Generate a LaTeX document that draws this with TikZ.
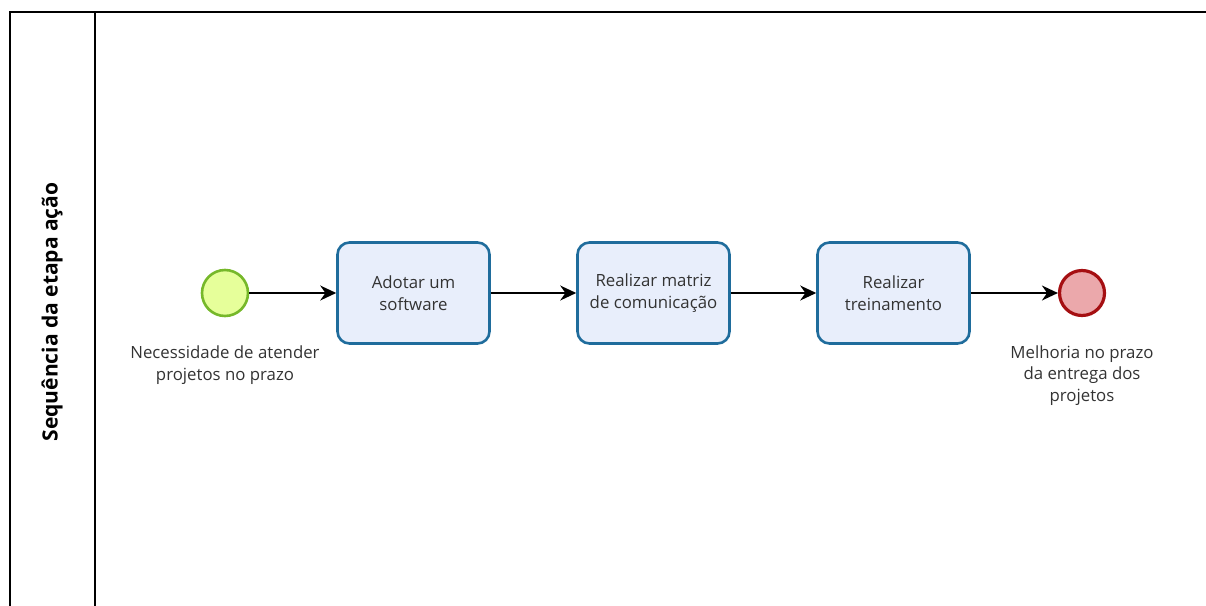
\documentclass[tikz,border=0pt]{standalone}
\usepackage{fontspec}
\setmainfont{Open Sans}
\usetikzlibrary{arrows.meta,positioning}
\definecolor{taskfill}{HTML}{E8EEFB}
\definecolor{taskline}{HTML}{1F6C9C}
\definecolor{startfill}{HTML}{E6FF9A}
\definecolor{startline}{HTML}{76B82A}
\definecolor{endfill}{HTML}{EBA8AB}
\definecolor{endline}{HTML}{A50F12}
\definecolor{txt}{HTML}{333333}
\tikzset{
  task/.style={draw=taskline,fill=taskfill,line width=2.6pt,rounded corners=12pt,
               minimum width=152pt,minimum height=101pt,align=center,text=txt,
               font=\fontsize{16.8}{22}\selectfont},
  startev/.style={circle,draw=startline,fill=startfill,line width=2.6pt,minimum size=46pt,inner sep=0pt},
  endev/.style={circle,draw=endline,fill=endfill,line width=3.2pt,minimum size=45pt,inner sep=0pt},
  evlabel/.style={align=center,text=txt,font=\fontsize{16.8}{21.5}\selectfont},
  flow/.style={-{Stealth[length=16pt,width=15pt]},line width=1.5pt}
}
\begin{document}
\begin{tikzpicture}[x=1pt,y=-1pt]
  \useasboundingbox (0,0) rectangle (1206,605);
  % pool and lane
  \draw[line width=1.8pt] (1206,12) -- (10,12) -- (10,615);
  \draw[line width=1.8pt] (95,12) -- (95,615);
  \node[rotate=90,font=\fontsize{21}{24}\selectfont\bfseries] (lane) at (52,312) {Sequência da etapa ação};
  % events and tasks
  \node[startev] (start) at (225,293) {};
  \node[task] (t1) at (413.5,293) {Adotar um\\software};
  \node[task] (t2) at (653.5,293) {Realizar matriz\\de comunicação};
  \node[task] (t3) at (893.5,293) {Realizar\\treinamento};
  \node[endev] (end) at (1082,293) {};
  \node[evlabel,below=25pt of start] (startlbl) {Necessidade de atender\\projetos no prazo};
  \node[evlabel,below=25pt of end] (endlbl) {Melhoria no prazo\\da entrega dos\\projetos};
  % sequence flows
  \draw[flow] (start) -- (t1);
  \draw[flow] (t1) -- (t2);
  \draw[flow] (t2) -- (t3);
  \draw[flow] (t3) -- (end);
\end{tikzpicture}
\end{document}
